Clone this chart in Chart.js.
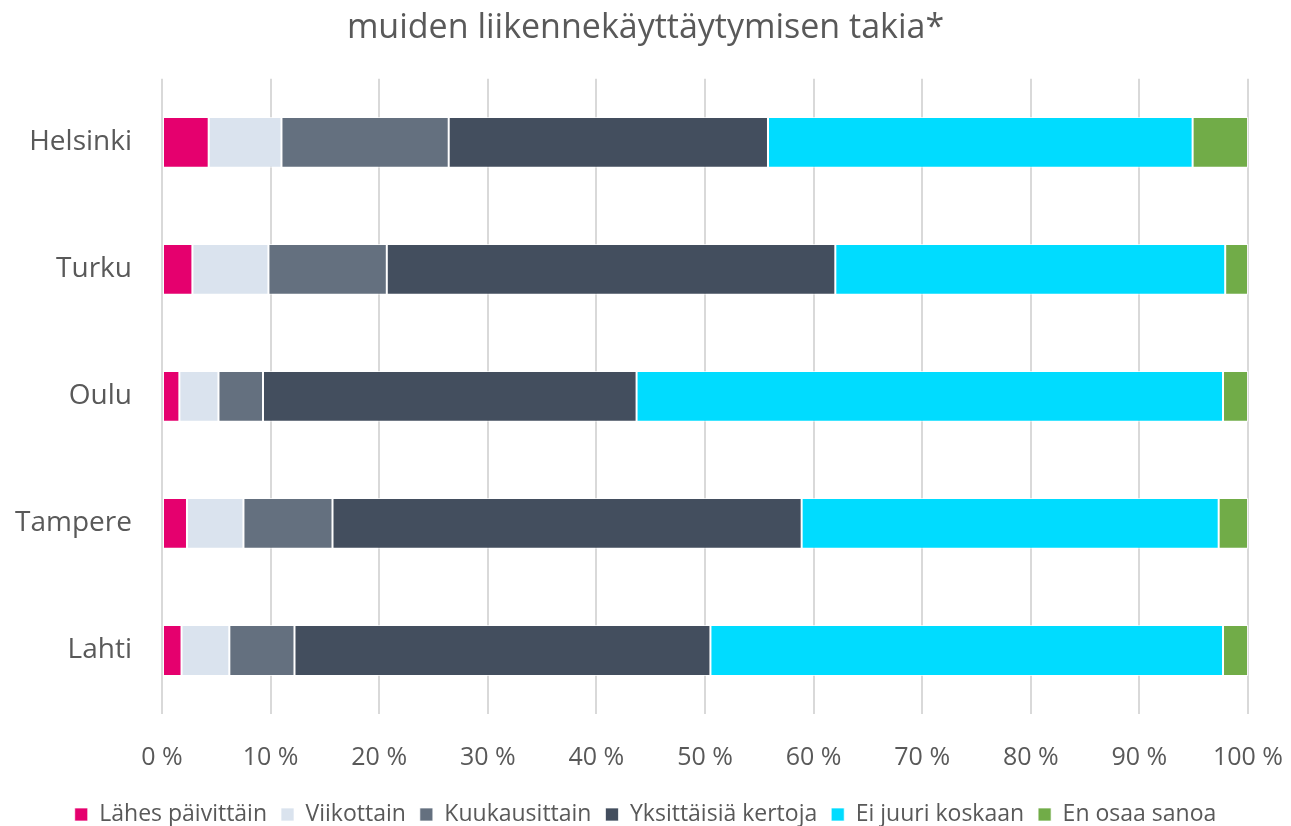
<!DOCTYPE html>
<html>
<head>
<meta charset="utf-8">
<script src="https://cdn.jsdelivr.net/npm/chart.js@4"></script>
<style>
html,body{margin:0;padding:0;background:#fff;}
#wrap{width:1291px;height:826px;position:relative;}
</style>
</head>
<body>
<div id="wrap"><canvas id="c"></canvas></div>
<script>
const categories = ["Helsinki", "Turku", "Oulu", "Tampere", "Lahti"];
const seriesNames = ["Lähes päivittäin", "Viikottain", "Kuukausittain", "Yksittäisiä kertoja", "Ei juuri koskaan", "En osaa sanoa"];
const lahesPaivittain = [4.3, 2.8, 1.6, 2.3, 1.8];
const viikottain = [6.7, 7.0, 3.6, 5.2, 4.4];
const kuukausittain = [15.4, 10.9, 4.1, 8.2, 6.0];
const yksittaisia = [29.4, 41.3, 34.4, 43.2, 38.3];
const eiJuuriKoskaan = [39.1, 35.9, 54.0, 38.4, 47.2];
const enOsaaSanoa = [5.1, 2.1, 2.3, 2.7, 2.3];
const xTicks = [0, 10, 20, 30, 40, 50, 60, 70, 80, 90, 100];
const colors = ["#E5006E", "#DAE3EE", "#64707F", "#434E5E", "#00DCFF", "#71AC48"];

const values = [lahesPaivittain, viikottain, kuukausittain, yksittaisia, eiJuuriKoskaan, enOsaaSanoa];
const FONT = "'Open Sans', 'Noto Sans', sans-serif";
const TXT = "#595959";

new Chart(document.getElementById('c'), {
  type: 'bar',
  data: {
    labels: categories,
    datasets: values.map((v, i) => ({
      label: seriesNames[i],
      data: v,
      backgroundColor: colors[i],
      borderColor: 'rgba(255,255,255,0.7)',
      borderWidth: 1,
      borderSkipped: false,
      categoryPercentage: 0.4,
      barPercentage: 1.0
    }))
  },
  options: {
    indexAxis: 'y',
    responsive: true,
    maintainAspectRatio: false,
    animation: false,
    layout: { padding: { left: 0, right: 0, top: 8, bottom: -10 } },
    plugins: {
      title: {
        display: true,
        text: 'muiden liikennekäyttäytymisen takia*',
        color: TXT,
        font: { family: FONT, size: 34, weight: 'normal' },
        padding: { top: 0, bottom: 30 }
      },
      legend: {
        position: 'bottom',
        labels: {
          color: TXT,
          font: { family: FONT, size: 23 },
          boxWidth: 13,
          boxHeight: 13,
          padding: 14
        }
      },
      tooltip: { enabled: false }
    },
    scales: {
      x: {
        stacked: true,
        min: 0,
        max: 100,
        afterBuildTicks: (axis) => { axis.ticks = xTicks.map(v => ({ value: v })); },
        afterFit: (axis) => { axis.height -= 13; axis.paddingRight = 43; },
        ticks: {
          color: TXT,
          font: { family: FONT, size: 25 },
          padding: 29,
          callback: (v) => v + ' %'
        },
        grid: { color: '#D9D9D9', lineWidth: 2, drawTicks: false },
        border: { display: false }
      },
      y: {
        stacked: true,
        afterFit: (axis) => { axis.width = 162; },
        ticks: {
          color: TXT,
          font: { family: FONT, size: 28 },
          padding: 30
        },
        grid: { display: false, drawTicks: false },
        border: { display: false }
      }
    }
  }
});
</script>
</body>
</html>
